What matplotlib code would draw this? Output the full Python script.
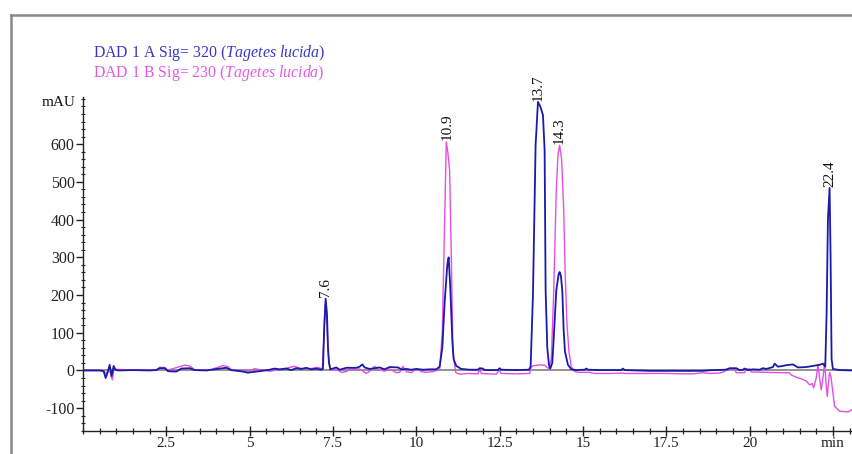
import matplotlib
matplotlib.use("Agg")
import matplotlib.pyplot as plt
from matplotlib.ticker import MultipleLocator, FixedLocator, FixedFormatter
from matplotlib.lines import Line2D

# ---- data ----
t_a = [0.0, 0.5, 0.62, 0.68, 0.74, 0.8, 0.86, 0.92, 0.97, 1.05, 1.5, 2.0, 2.2, 2.3, 2.45, 2.55,
       2.8, 2.95, 3.2, 3.35, 3.7, 4.1, 4.3, 4.45, 4.8, 4.95, 5.1, 5.3, 5.6, 5.75, 5.9, 6.1,
       6.25, 6.4, 6.55, 6.7, 6.85, 7.0, 7.15, 7.2, 7.24, 7.28, 7.32, 7.35, 7.38, 7.42, 7.6,
       7.7, 7.9, 8.2, 8.3, 8.38, 8.45, 8.6, 8.75, 8.9, 9.05, 9.2, 9.45, 9.55, 9.7, 9.85, 10.0,
       10.2, 10.4, 10.6, 10.7, 10.78, 10.85, 10.93, 10.97, 11.02, 11.08, 11.12, 11.2, 11.35,
       11.6, 11.85, 11.9, 12.0, 12.05, 12.45, 12.5, 12.55, 13.0, 13.38, 13.43, 13.5, 13.58,
       13.6, 13.65, 13.72, 13.8, 13.85, 13.88, 13.93, 13.98, 14.02, 14.08, 14.12, 14.2, 14.27,
       14.3, 14.34, 14.38, 14.42, 14.46, 14.55, 14.65, 14.8, 15.05, 15.1, 15.15, 15.5, 16.15,
       16.2, 16.25, 17.0, 18.0, 18.6, 18.9, 19.3, 19.4, 19.6, 19.7, 19.8, 19.85, 19.95, 20.1,
       20.3, 20.4, 20.5, 20.7, 20.75, 20.85, 21.0, 21.1, 21.2, 21.3, 21.45, 21.7, 21.9, 22.1,
       22.2, 22.27, 22.31, 22.35, 22.4, 22.43, 22.46, 22.5, 22.7, 23.1]
sig_a = [0, 0, -2, -20, -5, 15, -15, 12, 2, 0, 1, 0, 1, 6, 6, -2,
         -3, 5, 6, 1, 0, 5, 7, 1, -3, -6, -4, -2, 2, 5, 3, 5,
         1, 6, 4, 7, 3, 5, 2, 5, 120, 190, 150, 62, 20, 3, 8,
         2, 7, 7, 10, 16, 8, 4, 6, 8, 3, 9, 8, 3, 4, 2, 4,
         2, 3, 3, 10, 60, 180, 280, 300, 220, 80, 30, 12, 4,
         2, 2, 6, 5, 1, 1, 6, 2, 1, 2, 10, 200, 600,
         630, 712, 700, 677, 584, 212, 60, 15, 5, 20, 80, 212, 255,
         261, 250, 212, 110, 50, 15, 3, 1, 2, 5, 2, 1, 1,
         5, 1, -1, -1, -1, 1, 2, 6, 6, 1, 2, 5, 1, 3,
         2, 6, 4, 9, 18, 10, 12, 14, 15, 16, 8, 9, 12, 15,
         18, 10, 150, 400, 484, 300, 30, 4, 1, 0]

t_b = [0.0, 0.6, 0.7, 0.78, 0.88, 0.93, 1.0, 1.3, 1.6, 2.2, 2.3, 2.45, 2.55, 2.9, 3.05, 3.2,
       3.35, 3.8, 4.1, 4.2, 4.35, 4.45, 4.8, 5.0, 5.15, 5.3, 5.6, 5.9, 6.2, 6.35, 6.5, 6.7,
       6.85, 7.0, 7.1, 7.18, 7.22, 7.27, 7.32, 7.36, 7.42, 7.6, 7.75, 7.9, 8.0, 8.3, 8.5, 8.6,
       8.75, 8.85, 9.05, 9.2, 9.4, 9.5, 9.6, 9.7, 9.85, 10.0, 10.15, 10.3, 10.5, 10.6, 10.7,
       10.78, 10.85, 10.9, 10.95, 11.0, 11.05, 11.1, 11.18, 11.3, 11.55, 11.85, 11.9, 11.95,
       12.4, 12.48, 12.55, 13.0, 13.4, 13.45, 13.5, 13.7, 13.85, 13.92, 13.98, 14.05, 14.12,
       14.2, 14.25, 14.3, 14.36, 14.42, 14.47, 14.52, 14.58, 14.65, 14.75, 14.9, 15.2, 15.35,
       15.8, 16.2, 16.25, 17.5, 18.0, 18.3, 18.6, 18.8, 19.1, 19.25, 19.3, 19.55, 19.6, 19.85,
       19.9, 20.0, 20.05, 20.5, 21.0, 21.2, 21.25, 21.4, 21.55, 21.7, 21.8, 21.88, 21.92, 22.0,
       22.05, 22.1, 22.15, 22.2, 22.25, 22.3, 22.33, 22.37, 22.4, 22.44, 22.5, 22.55, 22.7,
       22.95, 23.1]
sig_b = [0, 0, -8, 5, -25, 5, 3, 2, 1, 2, 8, 8, 1, 10, 14, 12,
         2, 1, 10, 13, 10, 2, -1, -2, 5, 2, -2, 2, 8, 11, 6, 4,
         5, 8, 7, 3, 80, 175, 120, 40, 2, 3, -5, -3, 3, 4, -8, -2,
         11, 3, -2, 4, -6, -5, 11, -3, -6, 5, -3, -5, -3, 0, 3,
         100, 400, 606, 575, 530, 300, 50, -5, -10, -8, -9, 3, -8,
         -10, 1, -8, -9, -8, 10, 12, 15, 14, 8, 5, 30, 200,
         478, 570, 597, 560, 434, 250, 124, 50, 10, -3, -5, -5, -8,
         -8, -7, -8, -8, -9, -9, -6, -8, -7, -3, 4, 4, -6, -6,
         4, 4, -4, -5, -6, -6, -12, -18, -22, -28, -38, -35, -46, -20,
         15, -20, -51, -20, 20, -40, -69, -30, -5, -16, -60, -95, -108,
         -110, -103]

peak_labels = ["7.6", "10.9", "13.7", "14.3", "22.4"]
peak_pos = [7.28, 10.92, 13.65, 14.30, 22.40]
peak_top = [190, 606, 712, 597, 484]

x_ticks = [2.5, 5, 7.5, 10, 12.5, 15, 17.5, 20, 22.5]
x_tick_labels = ["2.5", "5", "7.5", "10", "12.5", "15", "17.5", "20", "min"]
y_ticks = [-100, 0, 100, 200, 300, 400, 500, 600]

name_a = r"DAD 1 A Sig= 320 ($\mathit{Tagetes\ lucida}$)"
name_b = r"DAD 1 B Sig= 230 ($\mathit{Tagetes\ lucida}$)"

# ---- style ----
plt.rcParams['font.family'] = ['Liberation Serif', 'DejaVu Serif']
plt.rcParams['mathtext.fontset'] = 'custom'
plt.rcParams['mathtext.rm'] = 'Liberation Serif'
plt.rcParams['mathtext.it'] = 'Liberation Serif:italic'
plt.rcParams['axes.unicode_minus'] = False

W, H = 852, 454
fig = plt.figure(figsize=(W / 100, H / 100), dpi=100)
ax = fig.add_axes([83 / W, 23 / H, (W - 83) / W, (431 - 97) / H])

col_a = '#1a1aaa'
col_b = '#e34fe3'

ax.axhline(0, color='#8a8a8a', lw=1.3, zorder=1)
ax.plot(t_b, sig_b, color=col_b, lw=1.0, zorder=2)
ax.plot(t_a, sig_a, color=col_a, lw=1.3, zorder=3)

ax.set_xlim(0, (W - 83) / 33.33)
ax.set_ylim(-160.5, 725)

for s in ['top', 'right']:
    ax.spines[s].set_visible(False)
for s in ['left', 'bottom']:
    ax.spines[s].set_linewidth(1.0)
    ax.spines[s].set_color('#222222')

ax.xaxis.set_major_locator(FixedLocator(x_ticks))
ax.xaxis.set_major_formatter(FixedFormatter(x_tick_labels))
ax.xaxis.set_minor_locator(MultipleLocator(0.5))
ax.yaxis.set_major_locator(FixedLocator(y_ticks))
ax.yaxis.set_minor_locator(MultipleLocator(20))

ax.tick_params(axis='x', which='major', direction='inout', length=7, width=1.0,
               labelsize=11, pad=1, colors='#222222')
ax.tick_params(axis='x', which='minor', direction='inout', length=5, width=0.9, colors='#222222')
ax.tick_params(axis='y', which='major', direction='out', length=5, width=1.0,
               labelsize=11.5, pad=1, colors='#222222')
ax.tick_params(axis='y', which='minor', direction='inout', length=3, width=0.8, colors='#222222')

for lab, x, y in zip(peak_labels, peak_pos, peak_top):
    ax.annotate(lab, (x, y), xytext=(0, 1), textcoords='offset points',
                rotation=90, ha='center', va='bottom', fontsize=11, color='#111111')

fig.text(76 / W, 1 - 96 / H, "mAU", ha='right', va='top', fontsize=11, color='#111111')

fig.text(93 / W, 1 - 53 / H, name_a, ha='left', va='center', fontsize=11.4, color='#3838c8')
fig.text(93 / W, 1 - 73 / H, name_b, ha='left', va='center', fontsize=11.4, color='#e35ae3')

# outer grey frame (extends beyond the image)
fig.add_artist(Line2D([11 / W, 11 / W], [1 - 15 / H, -0.1], transform=fig.transFigure,
                      color='#888888', lw=1.8))
fig.add_artist(Line2D([11 / W, 1.1], [1 - 15 / H, 1 - 15 / H], transform=fig.transFigure,
                      color='#888888', lw=1.8))

fig.savefig('out.png', dpi=100)
